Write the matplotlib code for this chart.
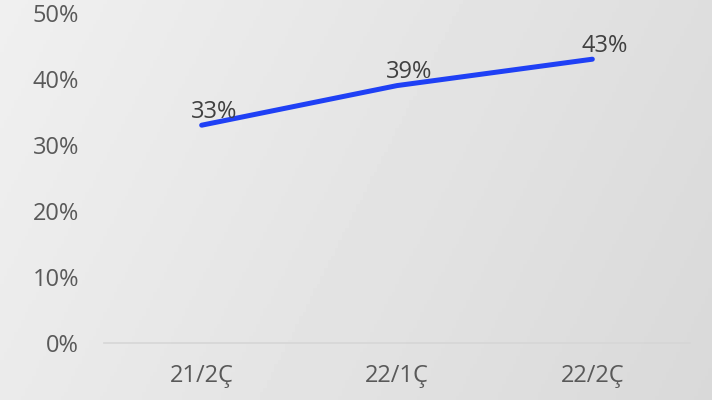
import matplotlib.pyplot as plt
import numpy as np

categories = ['21/2Ç', '22/1Ç', '22/2Ç']
values = [33, 39, 43]
yticks = [0, 10, 20, 30, 40, 50]

plt.rcParams['font.family'] = ['Open Sans', 'DejaVu Sans']

fig = plt.figure(figsize=(7.12, 4.0), dpi=100)

# gradient background
bg = fig.add_axes([0, 0, 1, 1], zorder=0)
gx = np.linspace(0, 1, 200)
gy = np.linspace(0, 1, 100)
X, Y = np.meshgrid(gx, gy)
grad = 0.94 - 0.07 * X - 0.02 * Y
bg.imshow(grad, cmap='gray', vmin=0, vmax=1, aspect='auto', extent=[0, 1, 0, 1])
bg.axis('off')

ax = fig.add_axes([104 / 712, 57 / 400, 586 / 712, 330 / 400], zorder=1)
ax.patch.set_alpha(0)

x = np.arange(len(categories))
ax.plot(x, values, color='#1f40f5', linewidth=3.6, solid_capstyle='round')

for xi, v in zip(x, values):
    ax.annotate(f'{v}%', (xi, v), xytext=(9, 5.5), textcoords='offset points',
                ha='center', va='baseline', fontsize=17, color='#404040')

ax.set_xlim(-0.5, 2.5)
ax.set_ylim(0, 50)
ax.set_xticks(x)
ax.set_xticklabels(categories)
ax.set_yticks(yticks)
ax.set_yticklabels([f'{t}%' for t in yticks])
ax.tick_params(length=0, labelsize=17, colors='#595959')
ax.tick_params(axis='y', pad=18)
ax.tick_params(axis='x', pad=15)

for s in ['top', 'right', 'left']:
    ax.spines[s].set_visible(False)
ax.spines['bottom'].set_color('#d6d6d6')
ax.spines['bottom'].set_linewidth(1.2)

fig.savefig('out.png', dpi=100)
